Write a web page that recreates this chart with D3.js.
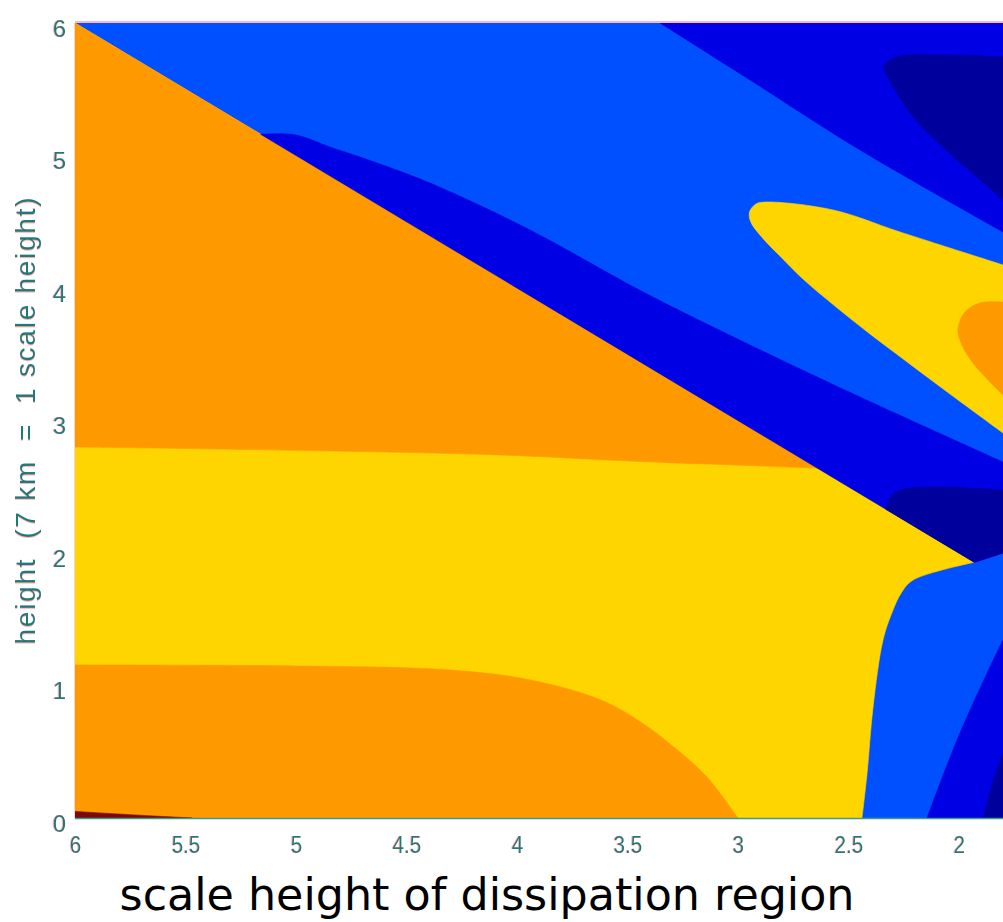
<!DOCTYPE html>
<html>
<head>
<meta charset="utf-8">
<script src="https://cdn.jsdelivr.net/npm/d3@7"></script>
<style>
  html, body { margin: 0; padding: 0; background: #ffffff; }
  svg { display: block; }
</style>
</head>
<body>
<svg id="chart" width="1003" height="922"></svg>
<script>
// Filled contour bands of the response, as a function of the scale height of the
// dissipation region (x, decreasing to the right) and height (y, in scale heights).
// Each band is described by its boundary curve(s) in data units.

const xTicks = [6, 5.5, 5, 4.5, 4, 3.5, 3, 2.5, 2];
const yTicks = [0, 1, 2, 3, 4, 5, 6];

// The straight edge along height == scale height ends here
const edgeEndX = 1.93;

// Contour level colours
const levelNames  = ["navy", "darkBlue", "blue", "yellow", "orange", "darkRed"];
const levelColors = ["#00009c", "#0000e4", "#0050ff", "#ffd500", "#ff9900", "#7a0a0a"];

// Boundary curves, [scale height, height]
const upperOrangeEdge = [[6, 2.80], [5, 2.775], [4.08, 2.74], [3.44, 2.69], [2.95, 2.66], [2.64, 2.64]];
const lowerOrangeEdge = [[6, 1.155], [4.98, 1.147], [4.30, 1.117], [3.94, 1.042], [3.62, 0.891],
                         [3.44, 0.725], [3.29, 0.536], [3.14, 0.309], [3.0, 0]];
const darkRedEdge     = [[6, 0.05], [5.75, 0.025], [5.47, 0]];
const yellowBlueEdge  = [[1.93, 1.93], [2.207, 1.796], [2.26, 1.70], [2.30, 1.56], [2.343, 1.343],
                         [2.388, 0.838], [2.415, 0.34], [2.438, 0]];
const bandEdge        = [[5.16, 5.16], [5.0, 5.155], [4.846, 5.064], [4.697, 4.981], [4.393, 4.792],
                         [3.941, 4.438], [3.42, 3.962], [2.945, 3.57], [2.447, 3.177], [1.8, 2.687]];
const topDarkEdge     = [[3.352, 6], [2.945, 5.57], [2.447, 5.042], [1.8, 4.423]];
const lowDarkEdge     = [[2.144, 0], [2.008, 0.589], [1.872, 1.094], [1.8, 1.343]];
const navyTopEdge     = [[1.8, 5.745], [2.07, 5.76], [2.28, 5.745], [2.34, 5.67], [2.31, 5.56],
                         [2.221, 5.321], [2.072, 5.064], [1.918, 4.838], [1.8, 4.664]];
const navyMidEdge     = [[2.33, 2.33], [2.31, 2.42], [2.266, 2.475], [2.085, 2.498], [1.8, 2.475]];
const navyMidFloor    = [[1.8, 2.0], [1.93, 1.93]];
const navyLowEdge     = [[1.89, 0], [1.85, 0.25], [1.8, 0.491]];
const tongueEdge      = [[1.8, 4.174], [2.266, 4.423], [2.569, 4.589], [2.868, 4.649], [2.918, 4.634],
                         [2.947, 4.575], [2.942, 4.50], [2.90, 4.40], [2.80, 4.225], [2.70, 4.06],
                         [2.569, 3.875], [2.415, 3.67], [2.234, 3.442], [2.04, 3.2], [1.8, 2.906]];
const orangeBlobEdge  = [[1.8, 3.894], [1.904, 3.887], [1.972, 3.819], [2.004, 3.683], [1.986, 3.57],
                         [1.936, 3.434], [1.859, 3.291], [1.8, 3.192]];

const colorOf = d3.scaleOrdinal().domain(levelNames).range(levelColors);

const svg = d3.select("#chart");
const margin = { left: 75, top: 23, right: 0, bottom: 104 };
const W = 1003, H = 922;

const x = d3.scaleLinear().domain([6, 1.8]).range([margin.left, W - margin.right]);
const y = d3.scaleLinear().domain([0, 6]).range([H - margin.bottom, margin.top]);

const smooth   = d3.line().x(d => x(d[0])).y(d => y(d[1])).curve(d3.curveCatmullRom.alpha(0.5));
const straight = d3.line().x(d => x(d[0])).y(d => y(d[1]));

// Join several boundary pieces into one closed outline
function outline(pieces) {
  return pieces.map((p, i) => {
    const s = (p.smooth ? smooth : straight)(p.pts);
    return i === 0 ? s : "L" + s.slice(1);
  }).join("") + "Z";
}
const diag = (a, b) => ({ smooth: false, pts: [[a, a], [b, b]] });
const S = pts => ({ smooth: true, pts });
const L = pts => ({ smooth: false, pts });

const defs = svg.append("defs");
defs.append("clipPath").attr("id", "plotClip")
  .append("rect")
  .attr("x", x(6)).attr("y", y(6))
  .attr("width", x(1.8) - x(6)).attr("height", y(0) - y(6));

// faint red fringe on the teal axis text
const fringe = defs.append("filter").attr("id", "fringe")
  .attr("x", "-20%").attr("y", "-20%").attr("width", "140%").attr("height", "140%");
fringe.append("feOffset").attr("in", "SourceAlpha").attr("dx", -1.3).attr("dy", 0).attr("result", "off");
fringe.append("feFlood").attr("flood-color", "#ff7a8a").attr("flood-opacity", 0.55);
fringe.append("feComposite").attr("in2", "off").attr("operator", "in").attr("result", "red");
const merge = fringe.append("feMerge");
merge.append("feMergeNode").attr("in", "red");
merge.append("feMergeNode").attr("in", "SourceGraphic");

const bands = [
  // base level everywhere above the edge
  { level: "blue", d: outline([L([[6, 0], [6, 6], [1.8, 6], [1.8, 0]])]) },
  // below the straight edge
  { level: "yellow", d: outline([diag(6, edgeEndX), S(yellowBlueEdge), L([[2.438, 0], [6, 0]])]) },
  { level: "orange", d: outline([diag(6, 2.64), S(upperOrangeEdge.slice().reverse())]) },
  { level: "orange", d: outline([S(lowerOrangeEdge), L([[3.0, 0], [6, 0]])]) },
  { level: "darkRed", d: outline([S(darkRedEdge), L([[5.47, 0], [6, 0]])]) },
  // above the straight edge
  { level: "darkBlue", d: outline([diag(edgeEndX, 5.16), S(bandEdge), L([[1.8, 2.687], [1.8, 2.0], [edgeEndX, edgeEndX]])]) },
  { level: "darkBlue", d: outline([S(topDarkEdge), L([[1.8, 4.423], [1.8, 6], [3.352, 6]])]) },
  { level: "darkBlue", d: outline([S(lowDarkEdge), L([[1.8, 1.343], [1.8, 0], [2.144, 0]])]) },
  { level: "navy", d: outline([S(navyTopEdge)]) },
  { level: "navy", d: outline([diag(edgeEndX, 2.33), S(navyMidEdge), L([[1.8, 2.475], ...navyMidFloor])]) },
  { level: "navy", d: outline([S(navyLowEdge), L([[1.8, 0.491], [1.8, 0], [1.89, 0]])]) },
  { level: "yellow", d: outline([S(tongueEdge)]) },
  { level: "orange", d: outline([S(orangeBlobEdge)]) }
];

svg.append("g").attr("clip-path", "url(#plotClip)")
  .selectAll("path").data(bands).join("path")
  .attr("d", d => d.d)
  .attr("fill", d => colorOf(d.level))
  .attr("stroke", d => colorOf(d.level))
  .attr("stroke-width", 0.6)
  .attr("stroke-linejoin", "round");

// Frame lines
svg.append("line")
  .attr("x1", x(6)).attr("x2", x(1.8)).attr("y1", y(6) - 1).attr("y2", y(6) - 1)
  .attr("stroke", "#ffb3c8").attr("stroke-width", 2);
svg.append("line")
  .attr("x1", x(6)).attr("x2", x(1.8)).attr("y1", y(0) + 0.5).attr("y2", y(0) + 0.5)
  .attr("stroke", "#3c9c86").attr("stroke-width", 1.5);
svg.append("line")
  .attr("x1", x(6) - 0.5).attr("x2", x(6) - 0.5).attr("y1", y(6)).attr("y2", y(0))
  .attr("stroke", "#f3d9d2").attr("stroke-width", 1);

const tickColor = "#1f7a78";
const tickFont = "'Liberation Sans', Arial, sans-serif";

const xAxis = svg.append("g")
  .attr("transform", `translate(0,${y(0)})`)
  .call(d3.axisBottom(x).tickValues(xTicks).tickSize(0).tickPadding(18).tickFormat(d3.format("")));
xAxis.select(".domain").remove();
xAxis.selectAll(".tick text")
  .attr("fill", tickColor).attr("font-size", 24).attr("font-family", tickFont)
  .attr("filter", "url(#fringe)")
  .style("transform", "scaleX(0.86)")
  .style("transform-box", "fill-box")
  .style("transform-origin", "center");

const yAxis = svg.append("g")
  .attr("transform", `translate(${x(6)},0)`)
  .call(d3.axisLeft(y).tickValues(yTicks).tickSize(0).tickPadding(9).tickFormat(d3.format("")));
yAxis.select(".domain").remove();
yAxis.selectAll(".tick text")
  .attr("fill", tickColor).attr("font-size", 24).attr("font-family", tickFont)
  .attr("dy", "0.55em")
  .attr("filter", "url(#fringe)");

// Axis titles
svg.append("text")
  .attr("transform", `translate(35,${421}) rotate(-90)`)
  .attr("text-anchor", "middle")
  .attr("fill", tickColor)
  .attr("font-family", tickFont)
  .attr("font-size", 28)
  .attr("textLength", 447)
  .attr("lengthAdjust", "spacing")
  .attr("filter", "url(#fringe)")
  .style("white-space", "pre")
  .text("height  (7 km  =  1 scale height)");

svg.append("text")
  .attr("x", 487).attr("y", 910)
  .attr("text-anchor", "middle")
  .attr("fill", "#000000")
  .attr("font-family", "'DejaVu Sans', sans-serif")
  .attr("font-size", 44)
  .attr("textLength", 735)
  .attr("lengthAdjust", "spacingAndGlyphs")
  .text("scale height of dissipation region");
</script>
</body>
</html>
